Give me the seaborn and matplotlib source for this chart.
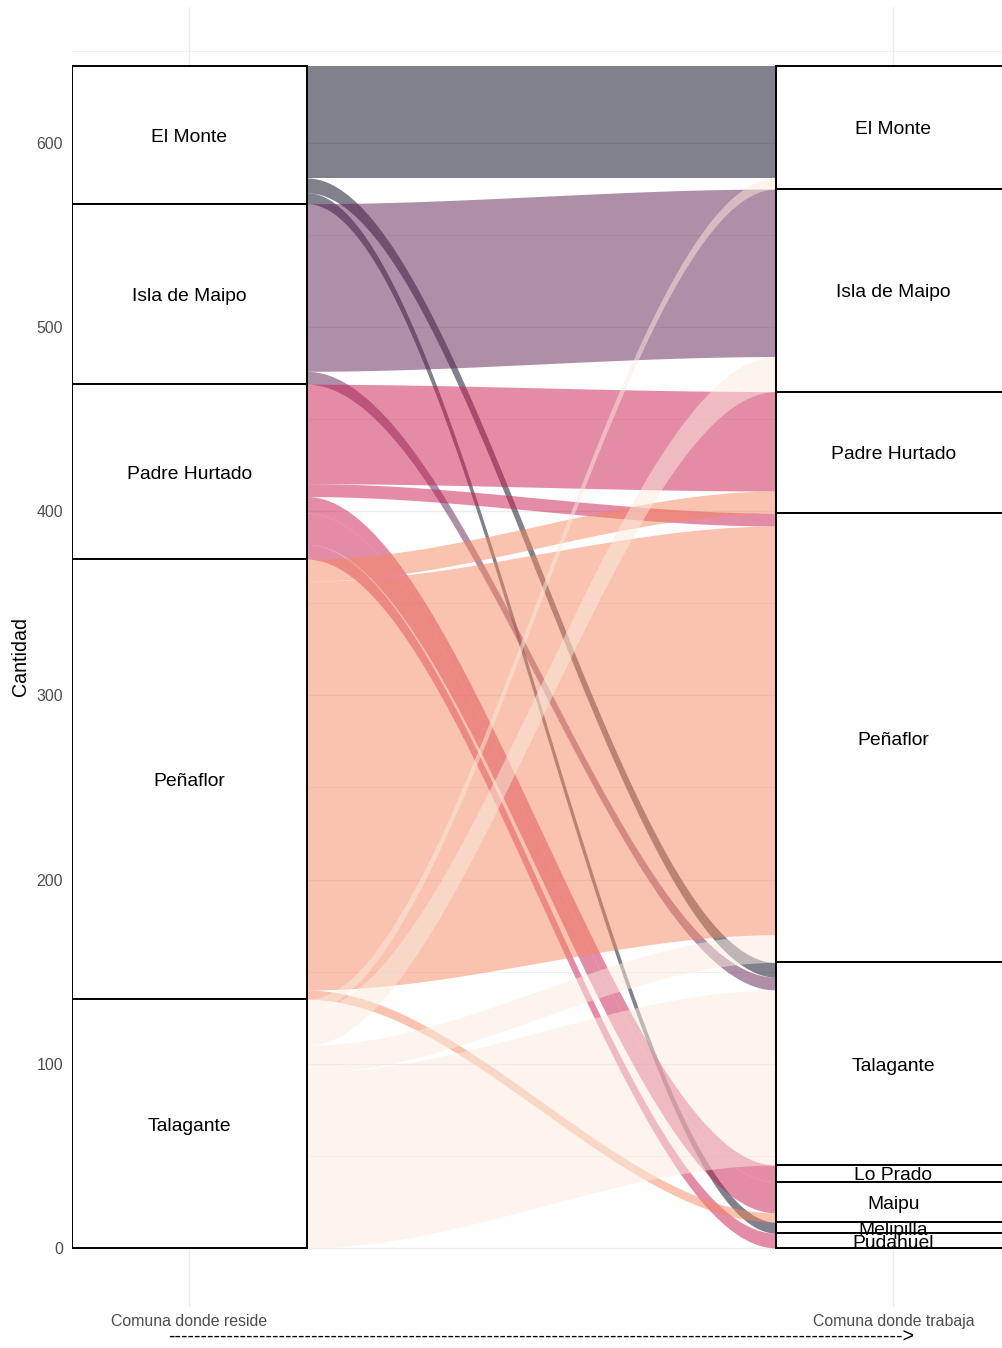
import numpy as np
import matplotlib
matplotlib.use("Agg")
import matplotlib.pyplot as plt
import matplotlib.transforms as mtransforms
from matplotlib.ticker import MultipleLocator
import seaborn as sns

# ---------------- data ----------------
reside_levels = ["El Monte", "Isla de Maipo", "Padre Hurtado", "Peñaflor", "Talagante"]
trabaja_levels = ["El Monte", "Isla de Maipo", "Padre Hurtado", "Peñaflor", "Talagante",
                  "Lo Prado", "Maipu", "Melipilla", "Pudahuel"]

origen = ["El Monte", "El Monte", "El Monte",
          "Isla de Maipo", "Isla de Maipo",
          "Padre Hurtado", "Padre Hurtado", "Padre Hurtado", "Padre Hurtado", "Padre Hurtado",
          "Peñaflor", "Peñaflor", "Peñaflor",
          "Talagante", "Talagante", "Talagante", "Talagante"]
destino = ["El Monte", "Talagante", "Melipilla",
           "Isla de Maipo", "Talagante",
           "Padre Hurtado", "Peñaflor", "Lo Prado", "Maipu", "Pudahuel",
           "Padre Hurtado", "Peñaflor", "Maipu",
           "El Monte", "Isla de Maipo", "Peñaflor", "Talagante"]
cantidad = [61, 8, 6,
            91, 7,
            54, 7, 9, 17, 8,
            12, 222, 5,
            6, 19, 15, 95]

axis_labels = ["Comuna donde reside", "Comuna donde trabaja"]
y_ticks = [0, 100, 200, 300, 400, 500, 600]

# ---------------- style ----------------
sns.set_theme(style="whitegrid")
plt.rcParams['font.family'] = ['Liberation Sans', 'DejaVu Sans']

W, H = 1002, 1348
fig = plt.figure(figsize=(W / 100, H / 100), dpi=100)
ax_left_px, ax_right_px = 72, 1002
ax_top_px, ax_bot_px = 6.5, 1307
ax = fig.add_axes([ax_left_px / W, (H - ax_bot_px) / H,
                   (ax_right_px - ax_left_px) / W, (ax_bot_px - ax_top_px) / H])

cmap = sns.color_palette("rocket", as_cmap=True)
n = len(reside_levels)
colors = {lvl: cmap(i / (n - 1)) for i, lvl in enumerate(reside_levels)}

sw = 1 / 3  # stratum width

def stack(levels, keys, vals):
    tot = {l: 0 for l in levels}
    for k, v in zip(keys, vals):
        tot[k] += v
    pos = {}
    y = 0
    for l in reversed(levels):
        pos[l] = (y, y + tot[l])
        y += tot[l]
    return tot, pos

tot_l, pos_l = stack(reside_levels, origen, cantidad)
tot_r, pos_r = stack(trabaja_levels, destino, cantidad)

# flow positions at each side
idx = list(range(len(cantidad)))
left_pos = {}
for lvl in reside_levels:
    members = sorted([i for i in idx if origen[i] == lvl], key=lambda i: trabaja_levels.index(destino[i]))
    top = pos_l[lvl][1]
    for i in members:
        left_pos[i] = (top - cantidad[i], top)
        top -= cantidad[i]
right_pos = {}
for lvl in trabaja_levels:
    members = sorted([i for i in idx if destino[i] == lvl], key=lambda i: reside_levels.index(origen[i]))
    top = pos_r[lvl][1]
    for i in members:
        right_pos[i] = (top - cantidad[i], top)
        top -= cantidad[i]

x0, x1 = 1 + sw / 2, 2 - sw / 2
t = np.linspace(0, 1, 300)
s = 3 * t ** 2 - 2 * t ** 3
xs = x0 + (x1 - x0) * t
for i in idx:
    lb, lt = left_pos[i]
    rb, rt = right_pos[i]
    bot = lb + (rb - lb) * s
    top = lt + (rt - lt) * s
    ax.fill_between(xs, bot, top, color=colors[origen[i]], alpha=0.5, lw=0, zorder=2)

# strata
txt_tr = mtransforms.offset_copy(ax.transData, fig=fig, x=0, y=-2.5, units="dots")
for lvl in reside_levels:
    b, tp = pos_l[lvl]
    ax.bar(1, tp - b, bottom=b, width=sw, color="white", edgecolor="black", lw=1.4, zorder=3)
    ax.text(1, (b + tp) / 2, lvl, ha="center", va="center", fontsize=13.9, color="black",
            zorder=4, transform=txt_tr)
for lvl in trabaja_levels:
    b, tp = pos_r[lvl]
    ax.bar(2, tp - b, bottom=b, width=sw, color="white", edgecolor="black", lw=1.4, zorder=3)
    ax.text(2, (b + tp) / 2, lvl, ha="center", va="center", fontsize=13.9, color="black",
            zorder=4, transform=txt_tr)

# axes
ax.set_xlim(1 - sw / 2, 1 - sw / 2 + (ax_right_px - ax_left_px) / 704)
ymax = 642
ax.set_ylim(-0.05 * ymax, ymax * 1.05)
ax.set_xticks([1, 2])
ax.set_xticklabels(axis_labels)
ax.set_yticks(y_ticks)
ax.yaxis.set_minor_locator(MultipleLocator(50))
ax.grid(which="major", color="#ebebeb", lw=1.0)
ax.grid(which="minor", axis="y", color="#ebebeb", lw=0.5)
ax.set_axisbelow(True)
for sp in ax.spines.values():
    sp.set_visible(False)
ax.tick_params(axis="both", which="both", length=0, labelcolor="#4d4d4d", labelsize=11.4)
ax.tick_params(axis="x", pad=5)
ax.tick_params(axis="y", pad=6.5)
ax.set_facecolor("white")

ax.set_ylabel("Cantidad", fontsize=14.1, color="black", labelpad=4.5)
ax.set_xlabel("-" * 113 + ">", fontsize=14.1, color="black", labelpad=0)
ax.xaxis.set_label_coords((541 - ax_left_px) / (ax_right_px - ax_left_px),
                          -(1337.5 - ax_bot_px) / (ax_bot_px - ax_top_px))
ax.xaxis.label.set_va("center")

fig.savefig("out.png", dpi=100, facecolor="white")
